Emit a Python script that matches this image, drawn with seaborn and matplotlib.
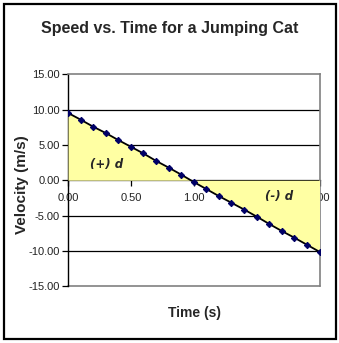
import matplotlib
matplotlib.use("Agg")
import matplotlib.pyplot as plt
import seaborn as sns
import pandas as pd
from matplotlib.patches import Rectangle

time_s = [0.0, 0.1, 0.2, 0.3, 0.4, 0.5, 0.6, 0.7, 0.8, 0.9, 1.0,
          1.1, 1.2, 1.3, 1.4, 1.5, 1.6, 1.7, 1.8, 1.9, 2.0]
velocity = [9.55, 8.6, 7.6, 6.7, 5.7, 4.75, 3.8, 2.75, 1.8, 0.8, -0.25,
            -1.25, -2.25, -3.2, -4.15, -5.15, -6.2, -7.2, -8.15, -9.15, -10.15]
y_ticks = [-15, -10, -5, 0, 5, 10, 15]
x_ticks = [0.0, 0.5, 1.0, 1.5, 2.0]
x_tick_labels = ["0.00", "0.50", "1.00", "", "2.00"]  # 1.50 is hidden under the fill
title = "Speed vs. Time for a Jumping Cat"
xlabel = "Time (s)"
ylabel = "Velocity (m/s)"
region_labels = ["(+) d", "(-) d"]
region_pos_t = [0.31, 1.68]
region_pos_v = [2.2, -2.3]

df = pd.DataFrame({"t": time_s, "v": velocity})

sns.set_style("white")
plt.rcParams["font.family"] = ["Liberation Sans Narrow", "Liberation Sans", "DejaVu Sans"]

fig = plt.figure(figsize=(3.39, 3.43), dpi=100)
ax = fig.add_axes([68 / 339, 1 - 286 / 343, (319.5 - 68) / 339, (286 - 74.5) / 343])

# outer frame
fig.patches.append(Rectangle((3.5 / 339, 1 - 338.5 / 343), 332.5 / 339, 335 / 343,
                             transform=fig.transFigure, fill=False,
                             edgecolor="black", linewidth=1.6))

ax.set_xlim(0, 2)
ax.set_ylim(-15, 15)

for g in [10, 5, -5, -10]:
    ax.axhline(g, color="black", linewidth=0.9, zorder=1)

ax.fill_between(df["t"], df["v"], 0, color="#FFFFA3", interpolate=True,
                linewidth=0, zorder=3)

sns.lineplot(data=df, x="t", y="v", ax=ax, color="black", linewidth=1.3,
             marker="D", markersize=3.2, markerfacecolor="#000066",
             markeredgecolor="#000066", zorder=4)

for lab, tt, vv in zip(region_labels, region_pos_t, region_pos_v):
    ax.text(tt, vv, lab, ha="center", va="center", fontsize=8.5,
            fontweight="bold", fontstyle="italic",
            family=["DejaVu Sans"], zorder=5)

# spines
ax.spines["left"].set_color("black")
ax.spines["left"].set_linewidth(1.0)
ax.spines["top"].set_color("#808080")
ax.spines["right"].set_color("#808080")
ax.spines["bottom"].set_position(("data", 0))
ax.spines["bottom"].set_color("black")
ax.spines["bottom"].set_linewidth(0.9)
ax.spines["bottom"].set_zorder(2)
ax.axhline(-15, color="#808080", linewidth=1.2, clip_on=False, zorder=2)
for s in ["top", "right"]:
    ax.spines[s].set_linewidth(1.2)

ax.set_yticks(y_ticks)
ax.set_yticklabels([f"{v:.2f}" for v in y_ticks])
ax.set_xticks(x_ticks)
ax.set_xticklabels(x_tick_labels)
ax.tick_params(axis="both", direction="out", length=4, width=0.9,
               labelsize=8, color="black", labelcolor="#222222")
ax.tick_params(axis="y", pad=2)
ax.tick_params(axis="x", pad=5)
ax.xaxis.set_zorder(2)
ax.yaxis.set_zorder(2)
ax.tick_params(left=True, bottom=True)

ax.set_xlabel("")
ax.set_ylabel("")
fig.text(194 / 339, 1 - 313 / 343, xlabel, ha="center", va="center",
         fontsize=10, fontweight="bold")
fig.text(22 / 339, 1 - 185 / 343, ylabel, ha="center", va="center",
         fontsize=11, fontweight="bold", rotation=90)
fig.text(170 / 339, 1 - 29 / 343, title, ha="center", va="center",
         fontsize=11.5, fontweight="bold")

fig.savefig("out.png", dpi=100)
